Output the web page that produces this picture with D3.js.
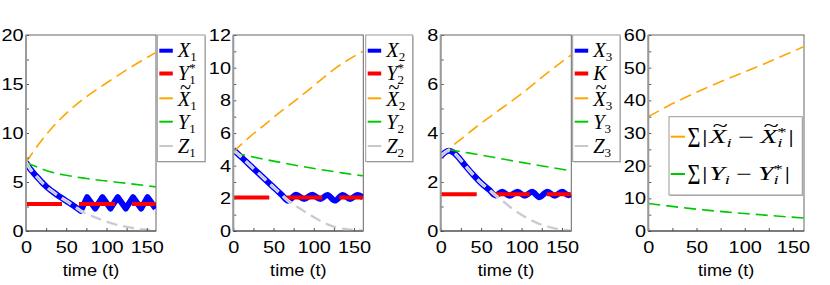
<!DOCTYPE html>
<html><head><meta charset="utf-8">
<script src="https://cdn.jsdelivr.net/npm/d3@7/dist/d3.min.js"></script>
<style>body{margin:0;background:#fff} svg{display:block}</style>
</head><body>
<svg id="c" width="830" height="285"></svg>
<script>
// ---------- data ----------
const tTicks = [0, 50, 100, 150];
const tMinor = [0, 25, 50, 75, 100, 125, 150];
const yTicks1 = [0, 5, 10, 15, 20];
const yTicks2 = [0, 2, 4, 6, 8, 10, 12];
const yTicks3 = [0, 2, 4, 6, 8];
const yTicks4 = [0, 10, 20, 30, 40, 50, 60];

// panel 1
const X1 = [[0,7],[5,6.35],[10,5.85],[15,5.4],[20,4.95],[25,4.55],[30,4.2],[35,3.9],[40,3.6],[45,3.33],[50,3.07],[55,2.8],[60,2.52],[65,2.23],[68,2.05],
  [76,3.45],[86,2.3],[95,3.45],[105,2.3],[114,3.45],[124,2.3],[133,3.45],[143,2.3],[151,3.45],[161,2.3]];
const Y1star = [[0,2.75],[161,2.75]];
const Xt1 = [[0,7],[10,8.2],[20,9.3],[30,10.3],[40,11.2],[50,12.0],[75,13.7],[100,15.1],[130,16.7],[161,18.2]];
const Y1 = [[0,7],[10,6.65],[20,6.33],[30,6.05],[50,5.68],[75,5.36],[100,5.1],[130,4.82],[161,4.5]];
const Z1 = [[0,7],[5,6.35],[10,5.85],[15,5.4],[20,4.95],[25,4.55],[30,4.2],[35,3.9],[40,3.6],[45,3.33],[50,3.07],[55,2.8],[60,2.52],[65,2.23],[68,2.05],
  [75,1.78],[85,1.42],[95,1.1],[105,0.82],[117,0.56],[130,0.34],[142,0.18],[155,0.07],[161,0.04]];

// panel 2
const X2 = [[0,4.98],[10,4.52],[20,4.06],[30,3.6],[40,3.14],[50,2.68],[60,2.22],[68,1.85],
  [78,2.22],[88,1.96],[98,2.22],[108,1.96],[117,2.2],[126,1.86],[136,2.2],[145,1.96],[154,2.2],[161,2.06]];
const Y2star = [[0,2.05],[161,2.05]];
const Xt2 = [[0,4.85],[10,5.3],[20,5.75],[40,6.55],[60,7.35],[80,8.1],[100,8.9],[125,9.9],[161,11.0]];
const Y2 = [[0,4.8],[20,4.58],[50,4.28],[80,4.0],[110,3.75],[135,3.56],[161,3.38]];
const Z2 = [[0,4.98],[10,4.52],[20,4.06],[30,3.6],[40,3.14],[50,2.68],[60,2.22],[68,1.85],
  [75,1.62],[82,1.4],[89,1.18],[100,0.85],[112,0.52],[128,0.22],[142,0.1],[155,0.05],[161,0.04]];

// panel 3
const X3 = [[0,3.05],[5,3.2],[10,3.28],[15,3.22],[20,3.08],[30,2.68],[40,2.3],[50,1.96],[60,1.68],[68,1.45],
  [76,1.6],[85,1.44],[95,1.6],[104,1.44],[113,1.6],[122,1.38],[132,1.6],[141,1.44],[150,1.6],[158,1.46],[161,1.5]];
const Kline = [[0,1.5],[161,1.5]];
const Xt3 = [[0,3.05],[10,3.35],[25,3.75],[50,4.4],[75,5.0],[100,5.6],[130,6.4],[161,7.18]];
const Y3 = [[9,3.33],[25,3.24],[50,3.1],[75,2.95],[100,2.8],[130,2.63],[161,2.46]];
const Z3 = [[0,3.05],[5,3.2],[10,3.28],[15,3.22],[20,3.08],[30,2.68],[40,2.3],[50,1.96],[60,1.68],[68,1.45],
  [75,1.28],[85,1.0],[94,0.79],[107,0.52],[119,0.33],[130,0.2],[142,0.1],[155,0.03],[161,0.02]];

// panel 4
const sumXt = [[0,35],[20,38.2],[40,41.1],[60,43.8],[80,46.3],[100,48.7],[130,52.4],[161,56.4]];
const sumY = [[0,8.4],[20,7.7],[40,7.0],[60,6.4],[80,5.85],[100,5.35],[130,4.65],[161,4.0]];

// ---------- drawing ----------
const svg = d3.select('#c');
const SANS = "'Liberation Sans', Arial, sans-serif";
const SERIF = "'Liberation Serif', 'Times New Roman', serif";
const C = {blue:'#0000ff', red:'#ff0000', orange:'#ffa500', green:'#00c800', gray:'#c8c8c8'};
const TOP = 35, BOT = 231;

function mathText(g, x, y, pieces, base) {
  let cx = x;
  for (const p of pieces) {
    const size = p.s || base;
    const t = g.append('text').attr('x', cx + (p.dx || 0)).attr('y', y + (p.dy || 0))
      .attr('font-family', p.f || SERIF).attr('font-size', size)
      .attr('font-style', p.i ? 'italic' : 'normal').attr('fill', '#000').text(p.t);
    const w = t.node().getComputedTextLength();
    if (p.tilde) {
      g.append('text').attr('x', cx + (p.dx || 0) + w / 2 + 1.5).attr('y', y - size * 0.6)
        .attr('text-anchor', 'middle').attr('font-family', SERIF).attr('font-size', size)
        .attr('fill', '#000').text('~');
    }
    if (!p.stay) cx += w + (p.dx || 0) + (p.gap || 0);
  }
  return cx - x;
}

function panel(cfg) {
  const x = d3.scaleLinear().domain([0, 161.5]).range([cfg.left, cfg.right]);
  const y = d3.scaleLinear().domain([0, cfg.ymax]).range([BOT, TOP]);
  const g = svg.append('g');
  g.append('rect').attr('x', cfg.left).attr('y', TOP).attr('width', cfg.right - cfg.left)
    .attr('height', BOT - TOP).attr('fill', '#fff').attr('stroke', '#666').attr('stroke-width', 1);

  const line = d3.line().x(d => x(d[0])).y(d => y(d[1]));
  const clipId = 'clip' + cfg.id;
  svg.append('clipPath').attr('id', clipId).append('rect')
    .attr('x', cfg.left).attr('y', TOP).attr('width', cfg.right - cfg.left).attr('height', BOT - TOP);
  const sg = g.append('g').attr('clip-path', `url(#${clipId})`);
  cfg.series.forEach(s => {
    const d = line.curve(s.curve || d3.curveMonotoneX)(s.data);
    if (s.halo) {
      sg.append('path').attr('d', d).attr('fill', 'none')
        .attr('stroke', '#eef').attr('stroke-width', s.w + 1.4).attr('stroke-dasharray', s.dash || null);
    }
    sg.append('path').attr('d', d).attr('fill', 'none')
      .attr('stroke', s.color).attr('stroke-width', s.w).attr('stroke-dasharray', s.dash || null)
      .attr('stroke-linejoin', 'round');
  });

  const ax = d3.axisBottom(x).tickValues(tMinor).tickSize(-3).tickPadding(9.5)
    .tickFormat(d => tTicks.includes(d) ? d : '');
  const ag = g.append('g').attr('transform', `translate(0,${BOT})`).call(ax);
  const ay = d3.axisLeft(y).tickValues(cfg.yMinor).tickSize(-3).tickPadding(2)
    .tickFormat(d => cfg.yTicks.includes(d) ? d : '');
  const yg = g.append('g').attr('transform', `translate(${cfg.left},0)`).call(ay);
  [ag, yg].forEach(a => {
    a.select('.domain').remove();
    a.selectAll('text').attr('font-family', SANS).attr('font-size', 17).attr('fill', '#000')
      .attr('transform', 'scale(1.17,1)');
    a.selectAll('line').attr('stroke', '#555');
  });
  g.append('line').attr('x1', cfg.left).attr('x2', cfg.left).attr('y1', TOP).attr('y2', BOT)
    .attr('stroke', '#999').attr('stroke-width', 2);
  g.append('line').attr('x1', cfg.left).attr('x2', cfg.right).attr('y1', BOT).attr('y2', BOT)
    .attr('stroke', '#444').attr('stroke-width', 1);
  g.append('text').attr('x', (cfg.left + cfg.right) / 2).attr('y', 276).attr('text-anchor', 'middle')
    .attr('font-family', SANS).attr('font-size', 16.5).attr('transform-origin', `${(cfg.left + cfg.right) / 2} 276`)
    .attr('transform', 'scale(1.1,1)').text('time (t)');

  if (cfg.legend) {
    const L = cfg.legend;
    const lg = svg.append('g');
    lg.append('rect').attr('x', L.x0 + 1).attr('y', L.y0 + 1).attr('width', L.x1 - L.x0).attr('height', L.y1 - L.y0)
      .attr('fill', '#bbb');
    lg.append('rect').attr('x', L.x0).attr('y', L.y0).attr('width', L.x1 - L.x0).attr('height', L.y1 - L.y0)
      .attr('fill', '#fff').attr('stroke', '#999').attr('stroke-width', 1);
    L.rows.forEach(r => {
      lg.append('line').attr('x1', L.lx0).attr('x2', L.lx1).attr('y1', r.ly).attr('y2', r.ly)
        .attr('stroke', r.color).attr('stroke-width', r.w);
      if (r.sum) {
        const fs = r.sum.h / 0.66;
        const sgp = lg.append('g');
        const st = sgp.append('text').attr('x', 0).attr('y', 0).attr('font-family', SERIF)
          .attr('font-size', fs).text('Σ');
        const w = st.node().getComputedTextLength();
        const sx = 13 / w;
        sgp.attr('transform', `translate(${r.sum.x},${r.sum.y + r.sum.h}) scale(${sx},1)`);
      }
      const tg = lg.append('g');
      const w = mathText(tg, 0, r.by, r.label, L.size);
      const sx = r.end ? (r.end - r.tx) / w : 1;
      tg.attr('transform', `translate(${r.tx || L.tx},0) scale(${sx},1)`);
    });
  }
}

function stdLegend(x0, x1, sub, secondName) {
  const lx0 = x0 + 2, lx1 = x0 + 15.5, tx = x0 + 20.5;
  const second = secondName === 'K'
    ? [{t:'K', i:true}]
    : [{t:'Y', i:true}, {t:sub, s:13, dy:4, stay:true}, {t:'*', s:13, dy:-8}];
  return {
    x0, x1, y0: 35, y1: 161.5, lx0, lx1, tx, size: 20.5,
    rows: [
      {color:C.blue, w:4, ly:50.7, by:57, label:[{t:'X', i:true}, {t:sub, s:13, dy:4}]},
      {color:C.red, w:4, ly:73.5, by:80, label:second},
      {color:C.orange, w:2, ly:98.3, by:106, label:[{t:'X', i:true, tilde:true}, {t:sub, s:13, dy:4}]},
      {color:C.green, w:2, ly:121.7, by:128.5, label:[{t:'Y', i:true}, {t:sub, s:13, dy:4}]},
      {color:C.gray, w:2, ly:146, by:152.5, label:[{t:'Z', i:true}, {t:sub, s:13, dy:4}]}
    ]
  };
}

function seriesSet(X, Ys, Xt, Y, Z, zigzag) {
  return [
    {data:X, color:C.blue, w:6, curve: zigzag ? d3.curveLinear : d3.curveMonotoneX},
    {data:Ys, color:C.red, w:4, dash:'36,17', curve:d3.curveLinear},
    {data:Xt, color:C.orange, w:1.6, dash:'12,6'},
    {data:Y, color:C.green, w:1.6, dash:'12,6'},
    {data:Z, color:C.gray, w:1.8, dash:'11,6', halo:true}
  ];
}

const half = (arr) => { const out = []; for (let i = 0; i < arr.length - 1; i++) { out.push(arr[i], (arr[i] + arr[i+1]) / 2); } out.push(arr[arr.length-1]); return out; };

panel({id:1, left:26, right:156, ymax:20, yTicks:yTicks1, yMinor:half(yTicks1),
  series: seriesSet(X1, Y1star, Xt1, Y1, Z1, true), legend: stdLegend(157.3, 205, '1')});
panel({id:2, left:233.3, right:363.3, ymax:12, yTicks:yTicks2, yMinor:half(yTicks2),
  series: seriesSet(X2, Y2star, Xt2, Y2, Z2, false), legend: stdLegend(365.7, 412.7, '2')});
panel({id:3, left:440.7, right:571.3, ymax:8, yTicks:yTicks3, yMinor:half(yTicks3),
  series: seriesSet(X3, Kline, Xt3, Y3, Z3, false), legend: stdLegend(572.7, 620, '3', 'K')});
panel({id:4, left:648.3, right:804, ymax:60, yTicks:yTicks4, yMinor:half(yTicks4),
  series: [
    {data:sumXt, color:C.orange, w:1.6, dash:'12,6'},
    {data:sumY, color:C.green, w:1.6, dash:'12,6'}
  ],
  legend: {x0:669, x1:802.3, y0:116.7, y1:195, lx0:670.7, lx1:685, tx:702, size:18,
    rows: [
      {color:C.orange, w:2, ly:136.7, by:143, tx:702, end:794, sum:{x:687.5, y:127, h:20},
       label:[{t:'|', gap:1}, {t:'X', i:true, tilde:true}, {t:'i', i:true, s:12, dy:4, gap:4},
              {t:'−', gap:4}, {t:'X', i:true, tilde:true}, {t:'i', i:true, s:12, dy:4, stay:true}, {t:'*', s:12, dy:-7, gap:1}, {t:'|'}]},
      {color:C.green, w:2, ly:174, by:180, tx:702, end:790, sum:{x:687.5, y:164, h:20},
       label:[{t:'|', gap:1}, {t:'Y', i:true}, {t:'i', i:true, s:12, dy:4, gap:4},
              {t:'−', gap:4}, {t:'Y', i:true}, {t:'i', i:true, s:12, dy:4, stay:true}, {t:'*', s:12, dy:-7, gap:1}, {t:'|'}]}
    ]}
});
</script>
</body></html>
